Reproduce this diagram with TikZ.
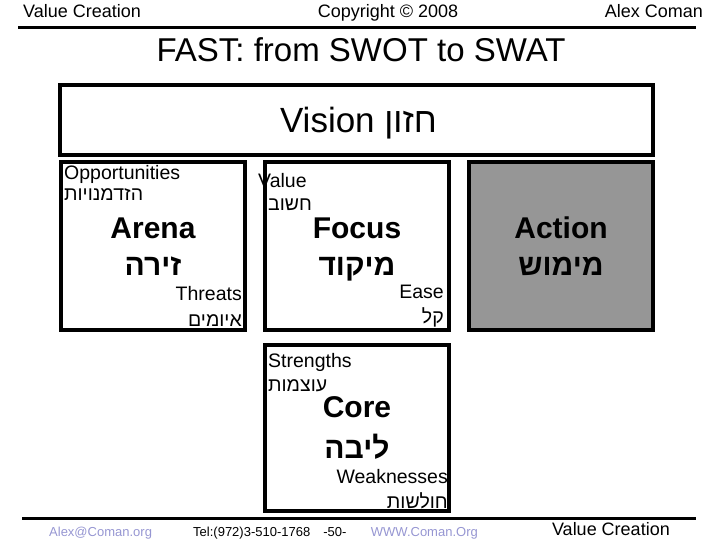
\documentclass[tikz,border=0pt]{standalone}
\usepackage{fontspec}
\setmainfont{Liberation Sans}
\newfontfamily\hebfont[Script=Hebrew]{Liberation Sans}
\TeXXeTstate=1
\usetikzlibrary{calc,positioning}
\definecolor{linkblue}{RGB}{150,150,210}
\definecolor{actiongray}{RGB}{150,150,150}
\newcommand{\heb}[1]{{\hebfont\beginR #1\endR}}
\newcommand{\fs}[1]{\fontsize{#1}{#1}\selectfont}
\tikzset{
  slide box/.style={draw,line width=4.5pt,minimum width=184pt,minimum height=168pt,inner sep=0pt,outer sep=0pt,anchor=north west},
  head text/.style={inner sep=0pt,font=\fs{18}},
  small text/.style={inner sep=0pt,font=\fs{19.5}},
  big text/.style={inner sep=0pt,font=\fs{30}\bfseries,anchor=base},
  foot text/.style={inner sep=0pt,font=\fs{13},anchor=base west},
  rule line/.style={line width=3pt},
}

\begin{document}
\begin{tikzpicture}[x=1pt,y=-1pt]
  \useasboundingbox (0,0) rectangle (720,540);
  % header
  \node[head text,anchor=base west] (hleft) at (23,18) {Value Creation};
  \node[head text,anchor=base] (hmid) at (388,18) {Copyright \textcopyright{} 2008};
  \node[head text,anchor=base east] (hright) at (703,18) {Alex Coman};
  \coordinate (hl) at (18,28);
  \coordinate (hr) at (696,28);
  \draw[rule line] (hl) -- (hr);
  \node[inner sep=0pt,font=\fs{33},anchor=base] (title) at (361,62) {FAST: from SWOT to SWAT};

  % vision
  \node[slide box,minimum width=593pt,minimum height=70pt] (vision) at (60,85) {};
  \node[inner sep=0pt,font=\fs{35},anchor=base] (visiontxt) at ($(vision.center)+(2,13)$) {Vision \heb{חזון}};

  % arena
  \node[slide box] (arena) at (61,162) {};
  \node[small text,anchor=base west] (opp) at ($(arena.north west)+(3,18)$) {Opportunities};
  \node[small text,anchor=base west] (opph) at ($(arena.north west)+(3,39)$) {\heb{הזדמנויות}};
  \node[big text] (arenatxt) at ($(arena.north west)+(92,77)$) {Arena};
  \node[big text] (arenah) at ($(arena.north west)+(92,113)$) {\heb{זירה}};
  \node[small text,anchor=base east] (thr) at ($(arena.north east)+(-3,138)$) {Threats};
  \node[small text,anchor=base east] (thrh) at ($(arena.north east)+(-3,164)$) {\heb{איומים}};

  % focus
  \node[slide box] (focus) at (265,162) {};
  \node[small text,anchor=base west] (val) at ($(focus.north west)+(-7,26)$) {Value};
  \node[small text,anchor=base west] (valh) at ($(focus.north west)+(3,49)$) {\heb{חשוב}};
  \node[big text] (focustxt) at ($(focus.north west)+(92,77)$) {Focus};
  \node[big text] (focush) at ($(focus.north west)+(92,113)$) {\heb{מיקוד}};
  \node[small text,anchor=base east] (ease) at ($(focus.north east)+(-5,136)$) {Ease};
  \node[small text,anchor=base east] (easeh) at ($(focus.north east)+(-5,161)$) {\heb{קל}};

  % action
  \node[slide box,fill=actiongray] (action) at (469,162) {};
  \node[big text] (actiontxt) at ($(action.north west)+(92,77)$) {Action};
  \node[big text] (actionh) at ($(action.north west)+(92,113)$) {\heb{מימוש}};

  % core
  \node[slide box,minimum height=166pt] (core) at (265,345) {};
  \node[small text,anchor=base west] (str) at ($(core.north west)+(3,22)$) {Strengths};
  \node[small text,anchor=base west] (strh) at ($(core.north west)+(3,46)$) {\heb{עוצמות}};
  \node[big text] (coretxt) at ($(core.north west)+(92,72)$) {Core};
  \node[big text] (coreh) at ($(core.north west)+(92,113)$) {\heb{ליבה}};
  \node[small text,anchor=base east] (weak) at ($(core.north east)+(-1,138)$) {Weaknesses};
  \node[small text,anchor=base east] (weakh) at ($(core.north east)+(-1,163)$) {\heb{חולשות}};

  % footer
  \coordinate (fl) at (22,518);
  \coordinate (fr) at (696,518);
  \draw[rule line] (fl) -- (fr);
  \node[foot text,text=linkblue] (mail) at (49,536) {\underline{Alex@Coman.org}};
  \node[foot text] (tel) at (193,536) {Tel:(972)3-510-1768\quad -50-};
  \node[foot text,anchor=base east,text=linkblue] (web) at (478,536) {\underline{WWW.Coman.Org}};
  \node[head text,anchor=base east] (fright) at (670,535) {Value Creation};
\end{tikzpicture}
\end{document}
